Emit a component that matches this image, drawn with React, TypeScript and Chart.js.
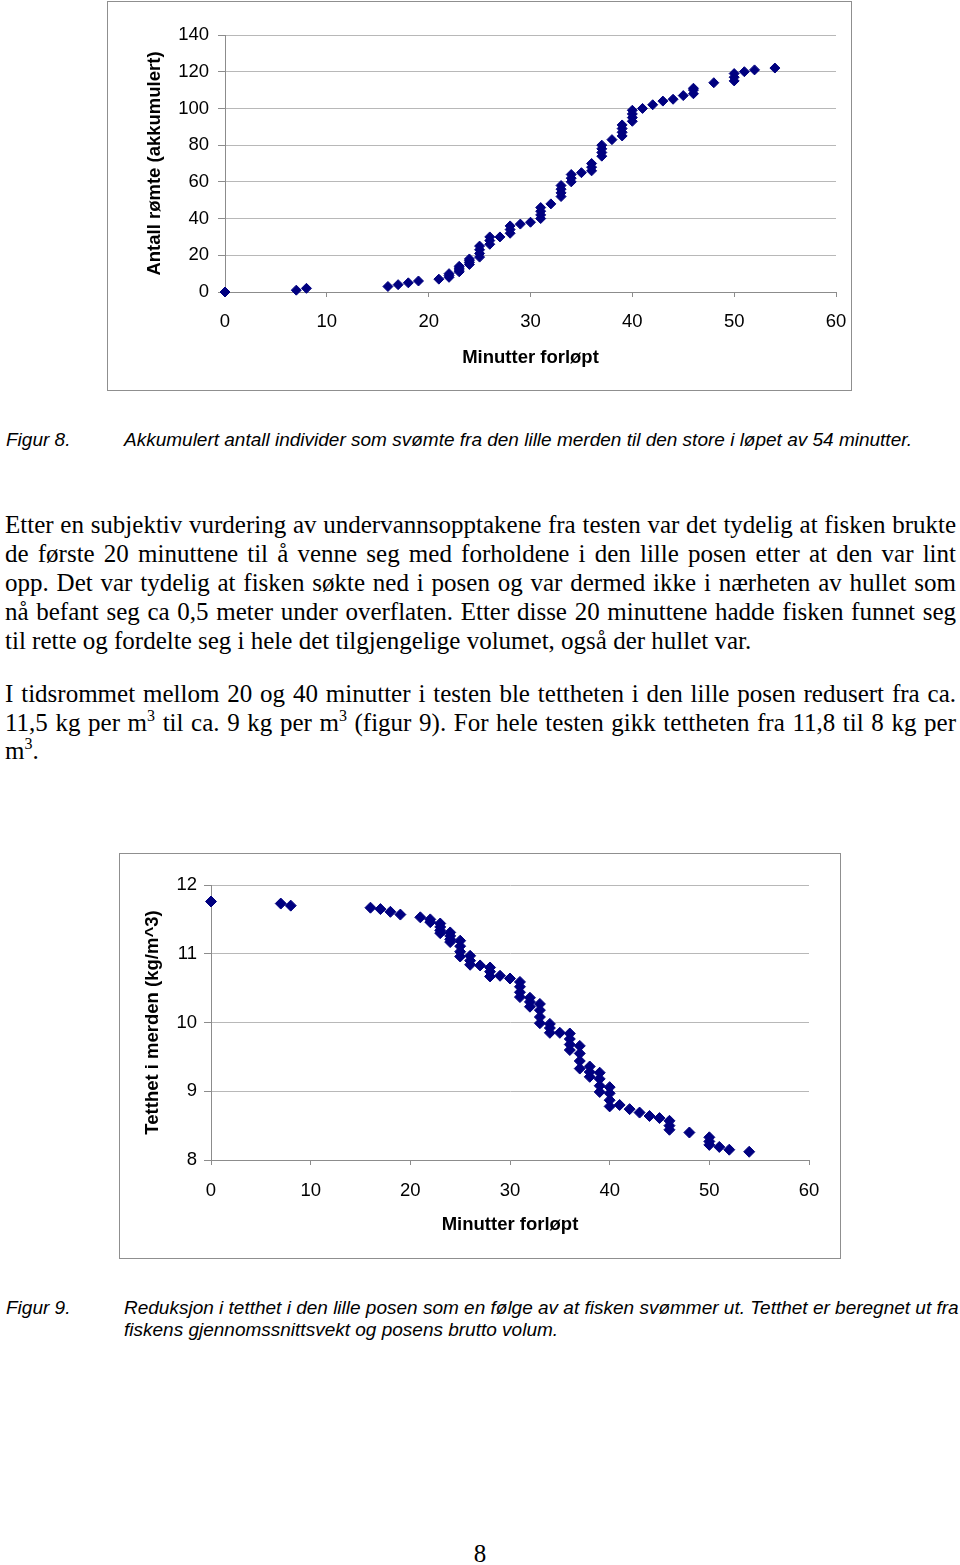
import React, { useEffect, useRef } from "react";
import { Chart, registerables } from "chart.js";

Chart.register(...registerables);

// ---- Figur 8: cumulative number escaped vs minutes ----
const fig8Minutes = [
  0, 7, 8, 16, 17, 18, 19, 21,
  22, 22, 22,
  23, 23, 23, 23,
  24, 24, 24, 24,
  25, 25, 25, 25,
  26, 26, 26,
  27,
  28, 28, 28,
  29, 30,
  31, 31, 31, 31,
  32,
  33, 33, 33, 33,
  34, 34, 34,
  35,
  36, 36, 36,
  37, 37, 37, 37,
  38,
  39, 39, 39, 39,
  40, 40, 40, 40,
  41, 42, 43, 44, 45,
  46, 46, 46,
  48,
  50, 50, 50,
  51, 52, 54,
];
const fig8Count = [
  0, 1, 2, 3, 4, 5, 6, 7,
  8, 9, 10,
  11, 12, 13, 14,
  15, 16, 17, 18,
  19, 21, 23, 25,
  26, 28, 30,
  30,
  32, 34, 36,
  37, 38,
  40, 42, 44, 46,
  48,
  52, 54, 56, 58,
  60, 62, 64,
  65,
  66, 68, 70,
  74, 76, 78, 80,
  83,
  85, 87, 89, 91,
  93, 95, 97, 99,
  100, 102, 104, 105, 107,
  108, 110, 111,
  114,
  115, 117, 119,
  120, 121, 122,
];

// ---- Figur 9: density in the small bag vs minutes ----
const fig9Minutes = [
  0, 7, 8, 16, 17, 18, 19, 21,
  22, 22,
  23, 23, 23, 23,
  24, 24, 24, 24,
  25, 25, 25, 25,
  26, 26, 26,
  27,
  28, 28, 28,
  29, 30,
  31, 31, 31, 31,
  32, 32, 32,
  33, 33, 33, 33,
  34, 34, 34,
  35,
  36, 36, 36, 36,
  37, 37, 37, 37,
  38, 38, 38,
  39, 39, 39, 39,
  40, 40, 40, 40,
  41, 42, 43, 44, 45,
  46, 46, 46,
  48,
  50, 50, 50,
  51, 52, 54,
];
const fig9Density = [
  11.76, 11.73, 11.7, 11.67, 11.65, 11.61, 11.57, 11.53,
  11.5, 11.46,
  11.44, 11.39, 11.34, 11.3,
  11.31, 11.26, 11.21, 11.17,
  11.19, 11.11, 11.03, 10.96,
  10.97, 10.9, 10.84,
  10.83,
  10.8, 10.74, 10.67,
  10.68, 10.64,
  10.59, 10.52, 10.44, 10.37,
  10.36, 10.3, 10.23,
  10.27, 10.18, 10.08, 9.99,
  9.98, 9.92, 9.85,
  9.85,
  9.84, 9.76, 9.68, 9.6,
  9.66, 9.55, 9.44, 9.33,
  9.36, 9.28, 9.21,
  9.27, 9.18, 9.08, 8.99,
  9.06, 8.97, 8.87, 8.78,
  8.8, 8.74, 8.69, 8.64, 8.61,
  8.57, 8.5, 8.44,
  8.4,
  8.33, 8.27, 8.22,
  8.19, 8.15, 8.12,
];

const xTitle = "Minutter forløpt";
const fig8YTitle = "Antall rømte (akkumulert)";
const fig9YTitle = "Tetthet i merden (kg/m^3)";

const SANS = "'Liberation Sans', Arial, sans-serif";
const SERIF = "'Liberation Serif', 'Times New Roman', serif";

type PanelProps = {
  xs: number[];
  ys: number[];
  yMin: number;
  yMax: number;
  yStep: number;
  yTitle: string;
  w: number;
  h: number;
  pad: { left: number; right: number; top: number; bottom: number };
  yWidth: number;
  xHeight: number;
  yTickPad: number;
  xTickPad: number;
  radius: number;
};

function ScatterPanel(p: PanelProps) {
  const ref = useRef<HTMLCanvasElement>(null);
  useEffect(() => {
    const tickFont = { family: SANS, size: 18.5 };
    const titleFont = { family: SANS, size: 18.5, weight: "bold" as const };
    const chart = new Chart(ref.current!, {
      type: "scatter",
      data: {
        datasets: [
          {
            data: p.xs.map((x, i) => ({ x, y: p.ys[i] })),
            pointStyle: "rectRot",
            pointRadius: p.radius,
            pointBorderWidth: 1,
            backgroundColor: "#000080",
            borderColor: "#000080",
            clip: false,
          },
        ],
      },
      options: {
        responsive: false,
        maintainAspectRatio: false,
        animation: false,
        devicePixelRatio: 1,
        layout: { padding: p.pad },
        plugins: { legend: { display: false }, tooltip: { enabled: false } },
        scales: {
          x: {
            type: "linear",
            min: 0,
            max: 60,
            ticks: { stepSize: 10, color: "#000", font: tickFont, padding: p.xTickPad },
            grid: { drawOnChartArea: false, drawTicks: true, tickLength: 5, color: "#8c8c8c" },
            border: { color: "#8c8c8c" },
            title: { display: true, text: xTitle, color: "#000", font: titleFont },
            afterFit: (s: any) => {
              s.height = p.xHeight;
              s.paddingLeft = 0;
              s.paddingRight = 0;
            },
          },
          y: {
            type: "linear",
            min: p.yMin,
            max: p.yMax,
            ticks: { stepSize: p.yStep, color: "#000", font: tickFont, padding: p.yTickPad },
            grid: { drawOnChartArea: true, drawTicks: true, tickLength: 7, color: "#b8b8b8", tickColor: "#8c8c8c" },
            border: { color: "#8c8c8c" },
            title: { display: true, text: p.yTitle, color: "#000", font: titleFont },
            afterFit: (s: any) => {
              s.width = p.yWidth;
              s.paddingTop = 0;
              s.paddingBottom = 0;
            },
          },
        },
      },
    } as any);
    return () => chart.destroy();
  }, []);
  return <canvas ref={ref} width={p.w} height={p.h} style={{ display: "block" }} />;
}

function Line(props: {
  baseline: number;
  left: number;
  width: number;
  size: number;
  family: string;
  italic?: boolean;
  justify?: boolean;
  children: React.ReactNode;
}) {
  const asc = props.family === SERIF ? 0.8375 : 0.8465;
  return (
    <div
      style={{
        position: "absolute",
        left: props.left,
        top: props.baseline - asc * props.size,
        width: props.width,
        fontFamily: props.family,
        fontSize: props.size,
        lineHeight: 1,
        fontStyle: props.italic ? "italic" : "normal",
        textAlign: props.justify ? "justify" : "left",
        textAlignLast: props.justify ? "justify" : "auto",
        color: "#000",
        whiteSpace: "nowrap",
      } as React.CSSProperties}
    >
      {props.children}
    </div>
  );
}

const Sup = () => (
  <span style={{ fontSize: 16, position: "relative", top: -10, lineHeight: 0 }}>3</span>
);

export default function App() {
  const bodyL = 5;
  const bodyW = 951;
  return (
    <div
      style={{
        position: "absolute",
        left: 0,
        top: 0,
        width: 960,
        height: 1565,
        background: "#fff",
        overflow: "hidden",
      }}
    >
      <div
        style={{
          position: "absolute",
          left: 107,
          top: 1,
          width: 745,
          height: 390,
          border: "1px solid #8f8f8f",
          boxSizing: "border-box",
        }}
      >
        <ScatterPanel
          xs={fig8Minutes}
          ys={fig8Count}
          yMin={0}
          yMax={140}
          yStep={20}
          yTitle={fig8YTitle}
          w={743}
          h={388}
          pad={{ left: 32, right: 15, top: 33, bottom: 17 }}
          yWidth={85}
          xHeight={81}
          yTickPad={9}
          xTickPad={14}
          radius={5}
        />
      </div>

      <Line baseline={446} left={6} width={110} size={19} family={SANS} italic>
        Figur 8.
      </Line>
      <Line baseline={446} left={124} width={830} size={19} family={SANS} italic>
        Akkumulert antall individer som svømte fra den lille merden til den store i løpet av 54 minutter.
      </Line>

      <Line baseline={533} left={bodyL} width={bodyW} size={25} family={SERIF} justify>
        Etter en subjektiv vurdering av undervannsopptakene fra testen var det tydelig at fisken brukte
      </Line>
      <Line baseline={562} left={bodyL} width={bodyW} size={25} family={SERIF} justify>
        de første 20 minuttene til å venne seg med forholdene i den lille posen etter at den var lint
      </Line>
      <Line baseline={591} left={bodyL} width={bodyW} size={25} family={SERIF} justify>
        opp. Det var tydelig at fisken søkte ned i posen og var dermed ikke i nærheten av hullet som
      </Line>
      <Line baseline={620} left={bodyL} width={bodyW} size={25} family={SERIF} justify>
        nå befant seg ca 0,5 meter under overflaten. Etter disse 20 minuttene hadde fisken funnet seg
      </Line>
      <Line baseline={649} left={bodyL} width={bodyW} size={25} family={SERIF}>
        til rette og fordelte seg i hele det tilgjengelige volumet, også der hullet var.
      </Line>

      <Line baseline={702} left={bodyL} width={bodyW} size={25} family={SERIF} justify>
        I tidsrommet mellom 20 og 40 minutter i testen ble tettheten i den lille posen redusert fra ca.
      </Line>
      <Line baseline={731} left={bodyL} width={bodyW} size={25} family={SERIF} justify>
        11,5 kg per m<Sup /> til ca. 9 kg per m<Sup /> (figur 9). For hele testen gikk tettheten fra 11,8 til 8 kg per
      </Line>
      <Line baseline={759} left={bodyL} width={bodyW} size={25} family={SERIF}>
        m<Sup />.
      </Line>

      <div
        style={{
          position: "absolute",
          left: 119,
          top: 853,
          width: 722,
          height: 406,
          border: "1px solid #8f8f8f",
          boxSizing: "border-box",
        }}
      >
        <ScatterPanel
          xs={fig9Minutes}
          ys={fig9Density}
          yMin={8}
          yMax={12}
          yStep={1}
          yTitle={fig9YTitle}
          w={720}
          h={404}
          pad={{ left: 18, right: 31, top: 31, bottom: 18 }}
          yWidth={73}
          xHeight={80}
          yTickPad={7}
          xTickPad={15}
          radius={5.5}
        />
      </div>

      <Line baseline={1314} left={6} width={110} size={19} family={SANS} italic>
        Figur 9.
      </Line>
      <Line baseline={1314} left={124} width={832} size={19} family={SANS} italic justify>
        Reduksjon i tetthet i den lille posen som en følge av at fisken svømmer ut. Tetthet er beregnet ut fra
      </Line>
      <Line baseline={1336} left={124} width={832} size={19} family={SANS} italic>
        fiskens gjennomssnittsvekt og posens brutto volum.
      </Line>

      <div
        style={{
          position: "absolute",
          left: 0,
          width: 960,
          top: 1562 - 0.8375 * 25,
          textAlign: "center",
          fontFamily: SERIF,
          fontSize: 25,
          lineHeight: 1,
        }}
      >
        8
      </div>
    </div>
  );
}
